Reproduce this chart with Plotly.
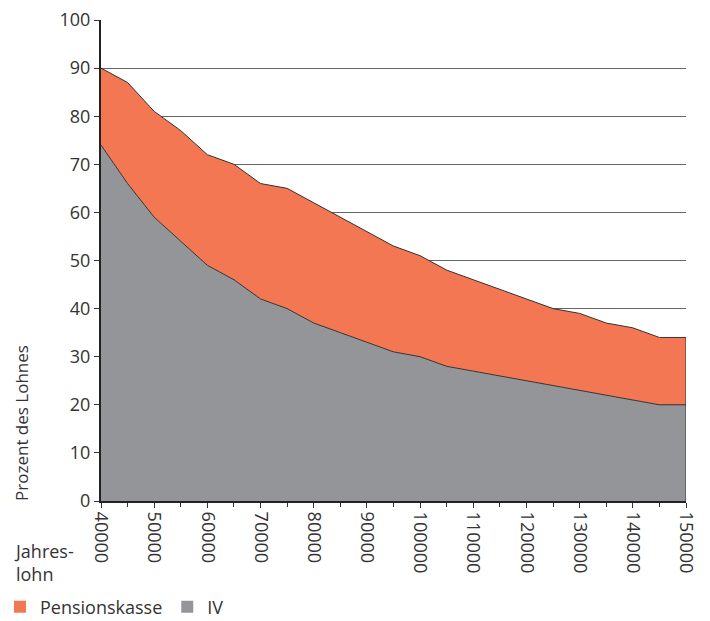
import plotly.graph_objects as go

# Jahreslohn in CHF
jahreslohn = [40000, 45000, 50000, 55000, 60000, 65000, 70000, 75000, 80000, 85000,
              90000, 95000, 100000, 105000, 110000, 115000, 120000, 125000, 130000,
              135000, 140000, 145000, 150000]
# Leistungen in Prozent des Lohnes
iv = [74, 66, 59, 54, 49, 46, 42, 40, 37, 35, 33, 31, 30, 28, 27, 26, 25, 24, 23, 22, 21, 20, 20]
total = [90, 87, 81, 77, 72, 70, 66, 65, 62, 59, 56, 53, 51, 48, 46, 44, 42, 40, 39, 37, 36, 34, 34]

x_ticks = list(range(40000, 150001, 10000))
y_ticks = list(range(0, 101, 10))

ORANGE = "#F27752"
GREY = "#939598"
EDGE = "#333333"
TEXT = "#333333"
FONT = "Open Sans"

fig = go.Figure()

# stacked areas: IV at the bottom, Pensionskasse on top
fig.add_trace(go.Scatter(x=jahreslohn, y=iv, mode="lines", fill="tozeroy",
                         fillcolor=GREY, line=dict(color=EDGE, width=1),
                         showlegend=False, hoverinfo="skip"))
fig.add_trace(go.Scatter(x=jahreslohn, y=total, mode="lines", fill="tonexty",
                         fillcolor=ORANGE, line=dict(color=EDGE, width=1),
                         showlegend=False, hoverinfo="skip"))
# closing edge on the right side of the stack
fig.add_trace(go.Scatter(x=[jahreslohn[-1], jahreslohn[-1]], y=[0, total[-1]],
                         mode="lines", line=dict(color=EDGE, width=1),
                         showlegend=False, hoverinfo="skip"))

# legend entries as square swatches
fig.add_trace(go.Scatter(x=[None], y=[None], mode="markers", name="Pensionskasse",
                         marker=dict(symbol="square", size=15, color=ORANGE)))
fig.add_trace(go.Scatter(x=[None], y=[None], mode="markers", name="IV",
                         marker=dict(symbol="square", size=15, color=GREY)))

fig.update_layout(
    width=710, height=621,
    margin=dict(l=101, r=24, t=20, b=120),
    paper_bgcolor="white", plot_bgcolor="white",
    font=dict(family=FONT, size=18, color=TEXT),
    showlegend=True,
    legend=dict(orientation="h", xref="container", yref="container",
                x=0.0, xanchor="left", y=0.0225, yanchor="middle",
                traceorder="normal",
                font=dict(size=18, color=TEXT), itemsizing="constant",
                itemwidth=30, tracegroupgap=0, bgcolor="rgba(0,0,0,0)"),
    xaxis=dict(range=[40000, 150000], tickvals=x_ticks, ticktext=[str(v) for v in x_ticks],
               tickangle=90, ticks="outside", ticklen=5, tickwidth=1, tickcolor=TEXT,
               minor=dict(dtick=5000, tick0=40000, ticks="outside", ticklen=4,
                          tickcolor=TEXT, showgrid=False),
               showline=True, linecolor="#222222", linewidth=2, showgrid=False,
               zeroline=False, automargin=False, tickfont=dict(size=18, color=TEXT)),
    yaxis=dict(range=[0, 100], tickvals=y_ticks, ticks="outside", ticklen=5, tickwidth=1,
               tickcolor=TEXT, showline=True, linecolor="#222222", linewidth=2,
               showgrid=True, gridcolor="#666666", gridwidth=1, zeroline=False,
               automargin=False, tickfont=dict(size=18, color=TEXT)),
    annotations=[
        dict(text="Prozent des Lohnes", textangle=-90, xref="paper", yref="paper",
             x=-0.135, y=-0.004, xanchor="center", yanchor="bottom", showarrow=False,
             font=dict(size=17, color=TEXT)),
        dict(text="Jahres-<br>lohn", xref="paper", yref="paper", x=-0.152, y=-0.074,
             xanchor="left", yanchor="top", align="left", showarrow=False,
             font=dict(size=18, color=TEXT)),
    ],
)

fig.write_html("out.html")
